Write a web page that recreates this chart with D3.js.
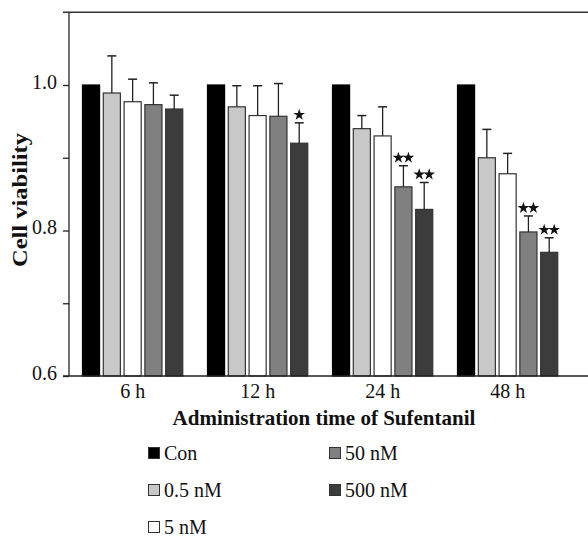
<!DOCTYPE html>
<html>
<head>
<meta charset="utf-8">
<script src="https://cdn.jsdelivr.net/npm/d3@7"></script>
<style>
    body { margin: 0; background: #fff; }
    svg text { font-family: "Liberation Serif", "Times New Roman", serif; }
</style>
</head>
<body>
<svg id="chart"></svg>
<script>
// times and doses
const groups = ['6 h', '12 h', '24 h', '48 h'];
const doses = ['Con', '0.5 nM', '5 nM', '50 nM', '500 nM'];
const doseColors = ['#000000', '#c8c8c8', '#ffffff', '#808080', '#3c3c3c'];

// mean cell viability per dose, one row per time
const means = [
    [1.0, 0.989, 0.977, 0.973, 0.967],
    [1.0, 0.970, 0.958, 0.957, 0.920],
    [1.0, 0.940, 0.930, 0.860, 0.829],
    [1.0, 0.900, 0.878, 0.798, 0.770]
];
// error (upper only)
const errors = [
    [0, 0.051, 0.031, 0.030, 0.019],
    [0, 0.029, 0.041, 0.045, 0.028],
    [0, 0.018, 0.040, 0.029, 0.037],
    [0, 0.039, 0.028, 0.022, 0.020]
];
// significance marks (number of stars)
const marks = [
    [0, 0, 0, 0, 0],
    [0, 0, 0, 0, 1],
    [0, 0, 0, 2, 2],
    [0, 0, 0, 2, 2]
];
const yTicks = [0.6, 0.7, 0.8, 0.9, 1.0];
const yLabels = [0.6, 0.8, 1.0];

const width = 588, height = 538;
const svg = d3.select('#chart').attr('width', width).attr('height', height);

const y = d3.scaleLinear().domain([0.6, 1.1]).range([376, 12.25]);
const x0 = d3.scaleBand().domain(groups).range([69, 571.25])
        .paddingInner(0.19).paddingOuter(0.104);
const x1 = d3.scaleBand().domain(doses).range([0, x0.bandwidth()]).paddingInner(0.13);
const color = d3.scaleOrdinal().domain(doses).range(doseColors);

// top frame line
svg.append('line')
        .attr('x1', 63).attr('x2', width)
        .attr('y1', y(1.1)).attr('y2', y(1.1))
        .attr('stroke', '#333').attr('stroke-width', 1.3);

// bars
const rows = [];
groups.forEach(function (g, gi) {
    doses.forEach(function (d, di) {
        rows.push({group: g, dose: d, value: means[gi][di], err: errors[gi][di], mark: marks[gi][di]});
    });
});

const bar = svg.append('g').selectAll('g').data(rows).join('g')
        .attr('transform', r => `translate(${x0(r.group) + x1(r.dose)},0)`);

bar.append('rect')
        .attr('x', 0.5)
        .attr('width', x1.bandwidth() - 1)
        .attr('y', r => y(r.value))
        .attr('height', r => y(0.6) - y(r.value))
        .attr('fill', r => color(r.dose))
        .attr('stroke', r => r.dose === 'Con' ? '#000' : '#333')
        .attr('stroke-width', 1.2);

const cx = x1.bandwidth() / 2;
const eb = bar.filter(r => r.err > 0);
eb.append('line')
        .attr('x1', cx).attr('x2', cx)
        .attr('y1', r => y(r.value)).attr('y2', r => y(r.value + r.err))
        .attr('stroke', '#222').attr('stroke-width', 1.3);
eb.append('line')
        .attr('x1', cx - 4.5).attr('x2', cx + 4.5)
        .attr('y1', r => y(r.value + r.err)).attr('y2', r => y(r.value + r.err))
        .attr('stroke', '#222').attr('stroke-width', 1.5);

// stars above error bars
bar.filter(r => r.mark > 0).each(function (r) {
    const g = d3.select(this);
    const top = y(r.value + r.err) - 8;
    d3.range(r.mark).forEach(function (k) {
        const sx = r.mark === 1 ? cx : cx + (k === 0 ? -5 : 5);
        g.append('path')
                .attr('d', d3.symbol(d3.symbolStar, 42)())
                .attr('transform', `translate(${sx},${top})`)
                .attr('fill', '#111');
    });
});

// axes
const yAxis = svg.append('g')
        .attr('transform', 'translate(69,0)')
        .call(d3.axisLeft(y).tickValues(yTicks).tickSize(6).tickPadding(6)
                .tickFormat(v => yLabels.some(l => Math.abs(l - v) < 1e-9) ? d3.format('.1f')(v) : ''));
yAxis.select('.domain').attr('d', `M0,${y(1.1)}V${y(0.6)}`);
yAxis.selectAll('line, path').attr('stroke', '#222').attr('stroke-width', 1.3);
yAxis.selectAll('text')
        .attr('font-size', 20)
        .attr('font-family', 'Liberation Serif')
        .attr('fill', '#111')
        .attr('dy', 3);

svg.append('line')
        .attr('x1', 63).attr('x2', width)
        .attr('y1', y(0.6)).attr('y2', y(0.6))
        .attr('stroke', '#222').attr('stroke-width', 1.3);

svg.append('g').selectAll('text').data(groups).join('text')
        .attr('x', g => x0(g) + x0.bandwidth() / 2)
        .attr('y', 398)
        .attr('text-anchor', 'middle')
        .attr('font-size', 20)
        .attr('fill', '#111')
        .text(g => g);

svg.append('text')
        .attr('x', 324).attr('y', 425)
        .attr('text-anchor', 'middle')
        .attr('font-size', 21).attr('font-weight', 'bold')
        .attr('fill', '#111')
        .text('Administration time of Sufentanil');

svg.append('text')
        .attr('transform', 'translate(27,200) rotate(-90)')
        .attr('text-anchor', 'middle')
        .attr('font-size', 21).attr('font-weight', 'bold')
        .attr('textLength', 134).attr('lengthAdjust', 'spacingAndGlyphs')
        .attr('fill', '#111')
        .text('Cell viability');

// legend
const legend = svg.append('g').selectAll('g').data(doses).join('g')
        .attr('transform', (d, i) => `translate(${i < 3 ? 148 : 329},${447 + (i % 3) * 37})`);
legend.append('rect')
        .attr('x', 0.5).attr('y', 0.5)
        .attr('width', 11).attr('height', 11)
        .attr('fill', d => color(d))
        .attr('stroke', '#333').attr('stroke-width', 1);
legend.append('text')
        .attr('x', 16).attr('y', 12.5)
        .attr('font-size', 20)
        .attr('fill', '#111')
        .text(d => d);
</script>
</body>
</html>
